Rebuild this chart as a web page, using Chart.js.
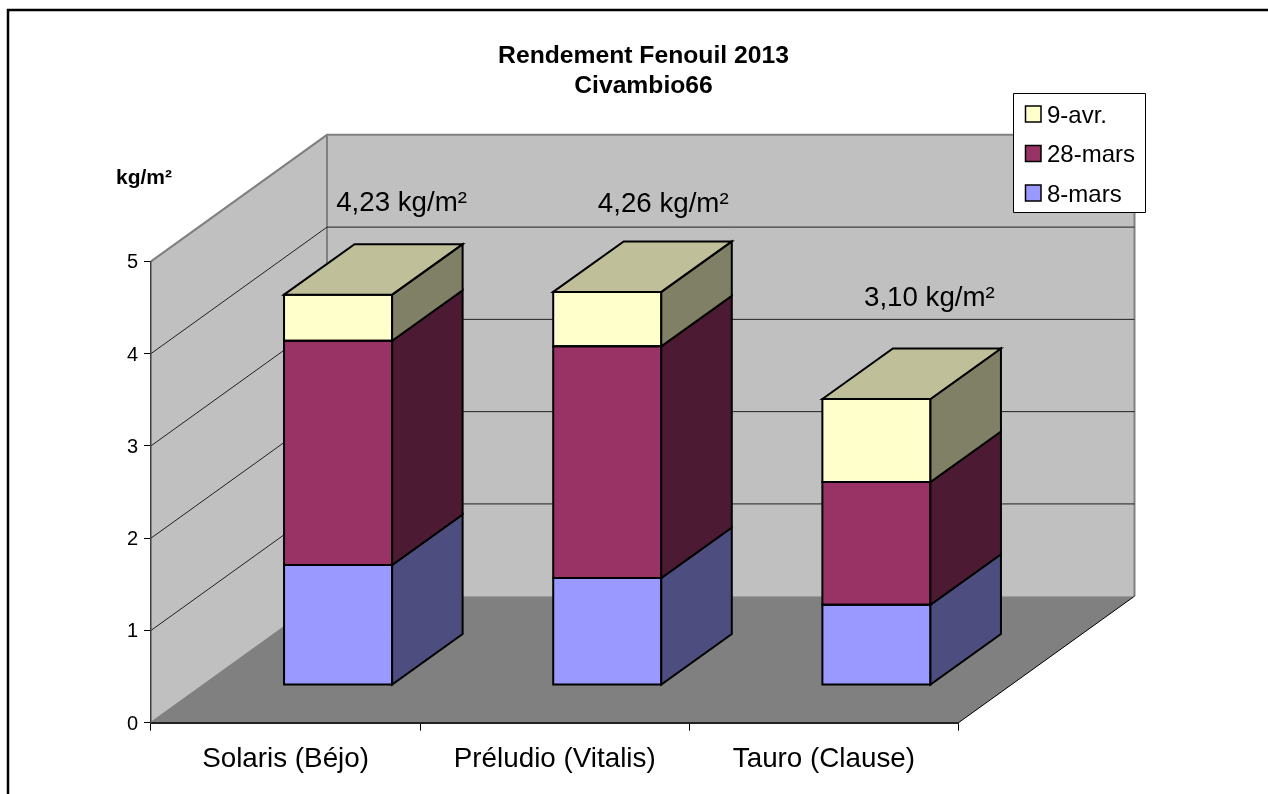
<!DOCTYPE html>
<html>
<head>
<meta charset="utf-8">
<title>Rendement Fenouil 2013</title>
<script src="https://cdn.jsdelivr.net/npm/chart.js@4"></script>
<style>
    html, body { margin: 0; padding: 0; background: #ffffff; overflow: hidden; }
    canvas { display: block; }
</style>
</head>
<body>
<canvas id="fenouilChart" width="1268" height="794"></canvas>
<script>
const varieties = ["Solaris (Béjo)", "Préludio (Vitalis)", "Tauro (Clause)"];
const harvest8Mars = [1.30, 1.16, 0.87];
const harvest28Mars = [2.43, 2.51, 1.33];
const harvest9Avr = [0.50, 0.59, 0.90];
const totalLabels = ["4,23 kg/m²", "4,26 kg/m²", "3,10 kg/m²"];
const seriesNames = ["8-mars", "28-mars", "9-avr."];
const seriesColors = ["#9999ff", "#993366", "#ffffcc"];
const sideColors = ["#4d4d80", "#4d1a33", "#808066"];
const topColor = "#bfbf99";

const FONT = "'Liberation Sans', Arial, sans-serif";

// oblique offsets of the fake 3D view
const wallDepth = { x: 176, y: -126.5 };
const barShift = { x: 52.5, y: -37.7 };
const barDepth = { x: 70.5, y: -50.5 };
// where each total label sits relative to the top of its bar
const totalOffsets = [{ x: 63.5, y: -91 }, { x: 56, y: -88 }, { x: 53, y: -100.5 }];

function polygon(ctx, pts, fill, stroke, width) {
    ctx.beginPath();
    pts.forEach((p, i) => i === 0 ? ctx.moveTo(p[0], p[1]) : ctx.lineTo(p[0], p[1]));
    ctx.closePath();
    if (fill) {
        ctx.fillStyle = fill;
        ctx.fill();
    }
    if (stroke) {
        ctx.strokeStyle = stroke;
        ctx.lineWidth = width;
        ctx.lineJoin = "miter";
        ctx.stroke();
    }
}

const walls3d = {
    id: "walls3d",
    afterLayout(chart) {
        // the original frame runs past the right edge, so the title is centred on it
        chart.titleBlock.left = 19;
        chart.titleBlock.right = 1268;
    },
    beforeDraw(chart) {
        const { ctx, chartArea: a, scales } = chart;
        const dx = wallDepth.x, dy = wallDepth.y;

        ctx.save();
        // outer frame, open on the right and at the bottom
        ctx.strokeStyle = "#000000";
        ctx.lineWidth = 2.5;
        ctx.beginPath();
        ctx.moveTo(8, 794);
        ctx.lineTo(8, 10);
        ctx.lineTo(1268, 10);
        ctx.stroke();

        const y0 = scales.y.getPixelForValue(0);
        const y5 = scales.y.getPixelForValue(5);

        polygon(ctx, [[a.left + dx, y5 + dy], [a.right + dx, y5 + dy], [a.right + dx, y0 + dy], [a.left + dx, y0 + dy]], "#c0c0c0");
        polygon(ctx, [[a.left, y5], [a.left + dx, y5 + dy], [a.left + dx, y0 + dy], [a.left, y0]], "#c0c0c0");
        polygon(ctx, [[a.left, y0], [a.left + dx, y0 + dy], [a.right + dx, y0 + dy], [a.right, y0]], "#808080");

        // wall edges
        ctx.strokeStyle = "#808080";
        ctx.lineWidth = 2;
        ctx.beginPath();
        ctx.moveTo(a.left, y5);
        ctx.lineTo(a.left + dx, y5 + dy);
        ctx.lineTo(a.right + dx, y5 + dy);
        ctx.lineTo(a.right + dx, y0 + dy);
        ctx.moveTo(a.left + dx, y5 + dy);
        ctx.lineTo(a.left + dx, y0 + dy);
        ctx.moveTo(a.left, y0);
        ctx.lineTo(a.left + dx, y0 + dy);
        ctx.stroke();

        // gridlines across both walls
        ctx.strokeStyle = "#202020";
        ctx.lineWidth = 1;
        [1, 2, 3, 4].forEach(v => {
            const y = scales.y.getPixelForValue(v);
            ctx.beginPath();
            ctx.moveTo(a.left, y);
            ctx.lineTo(a.left + dx, y + dy);
            ctx.lineTo(a.right + dx, y + dy);
            ctx.stroke();
        });

        // front edge of the floor on the right
        ctx.strokeStyle = "#000000";
        ctx.beginPath();
        ctx.moveTo(a.right, y0);
        ctx.lineTo(a.right + dx, y0 + dy);
        ctx.stroke();
        ctx.restore();
    },
    beforeDatasetsDraw(chart) {
        chart.ctx.save();
        chart.ctx.translate(barShift.x, barShift.y);
    },
    afterDatasetsDraw(chart) {
        const { ctx } = chart;
        const dx = barDepth.x, dy = barDepth.y;
        const lastIndex = chart.data.datasets.length - 1;

        chart.data.datasets.forEach((ds, d) => {
            chart.getDatasetMeta(d).data.forEach(bar => {
                const props = bar.getProps(["x", "y", "base", "width"], true);
                const right = props.x + props.width / 2;
                const left = props.x - props.width / 2;
                polygon(ctx, [[left, props.y], [right, props.y], [right, props.base], [left, props.base]], null, "#000000", 2);
                polygon(ctx, [[right, props.y], [right + dx, props.y + dy], [right + dx, props.base + dy], [right, props.base]], sideColors[d], "#000000", 2);
                if (d === lastIndex) {
                    polygon(ctx, [[left, props.y], [left + dx, props.y + dy], [right + dx, props.y + dy], [right, props.y]], topColor, "#000000", 2);
                }
            });
        });

        // totals above the bars
        ctx.fillStyle = "#000000";
        ctx.font = "27.7px " + FONT;
        ctx.textAlign = "center";
        ctx.textBaseline = "middle";
        chart.getDatasetMeta(lastIndex).data.forEach((bar, i) => {
            ctx.fillText(totalLabels[i], bar.x + totalOffsets[i].x, bar.y + totalOffsets[i].y);
        });
        ctx.restore();
    },
    afterDraw(chart) {
        const { ctx } = chart;
        ctx.save();

        // unit label
        ctx.fillStyle = "#000000";
        ctx.font = "bold 21px " + FONT;
        ctx.textAlign = "left";
        ctx.textBaseline = "middle";
        ctx.fillText("kg/m²", 116, 178);

        // legend box, last series on top
        polygon(ctx, [[1013.5, 93.5], [1145.5, 93.5], [1145.5, 212.5], [1013.5, 212.5]], "#ffffff", "#000000", 1);
        ctx.font = "24px " + FONT;
        seriesNames.slice().reverse().forEach((name, i) => {
            const y = 114 + i * 39.5;
            const color = seriesColors[seriesNames.length - 1 - i];
            polygon(ctx, [[1025.5, y - 8], [1041, y - 8], [1041, y + 8], [1025.5, y + 8]], color, "#000000", 1.5);
            ctx.fillStyle = "#000000";
            ctx.fillText(name, 1047, y + 2);
        });
        ctx.restore();
    }
};

const chartCanvas = document.getElementById("fenouilChart");

new Chart(chartCanvas, {
    type: "bar",
    plugins: [walls3d],
    data: {
        labels: varieties,
        datasets: [
            { label: seriesNames[0], data: harvest8Mars, backgroundColor: seriesColors[0] },
            { label: seriesNames[1], data: harvest28Mars, backgroundColor: seriesColors[1] },
            { label: seriesNames[2], data: harvest9Avr, backgroundColor: seriesColors[2] }
        ].map(ds => ({
            ...ds,
            borderWidth: 0,
            barPercentage: 0.4015,
            categoryPercentage: 1
        }))
    },
    options: {
        responsive: false,
        animation: false,
        devicePixelRatio: 1,
        layout: {
            padding: { top: 0, left: 0, right: 309.5, bottom: 0 }
        },
        plugins: {
            legend: { display: false },
            tooltip: { enabled: false },
            title: {
                display: true,
                text: ["Rendement Fenouil 2013", "Civambio66"],
                color: "#000000",
                font: { family: FONT, size: 24.7, weight: "bold", lineHeight: 1.215 },
                padding: { top: 41, bottom: 160.3 }
            }
        },
        scales: {
            x: {
                stacked: true,
                afterFit(scale) { scale.height = 71.3; },
                border: { color: "#222222", width: 2 },
                grid: { offset: true, drawOnChartArea: false, color: "#000000", tickLength: 8, lineWidth: 1 },
                ticks: {
                    color: "#000000",
                    font: { family: FONT, size: 27.8 },
                    padding: 12,
                    maxRotation: 0
                }
            },
            y: {
                stacked: true,
                min: 0,
                max: 5,
                afterFit(scale) { scale.width = 151; },
                border: { color: "#404040", width: 1.5 },
                grid: { drawOnChartArea: false, color: "#000000", tickLength: 7, lineWidth: 1 },
                ticks: {
                    stepSize: 1,
                    color: "#000000",
                    font: { family: FONT, size: 20 },
                    padding: 6,
                    labelOffset: 1.5
                }
            }
        }
    }
});
</script>
</body>
</html>
